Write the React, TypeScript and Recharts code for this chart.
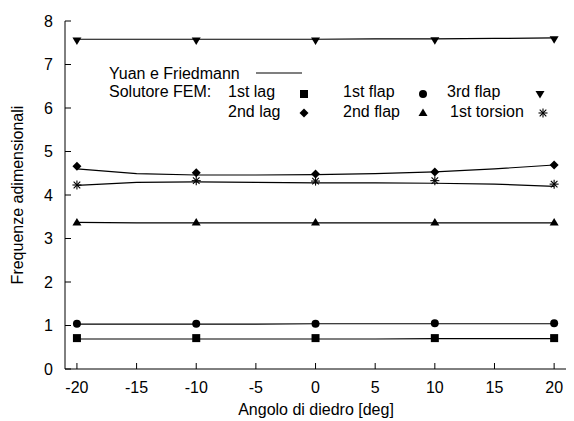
import React from 'react'
import { LineChart, Line, XAxis, YAxis } from 'recharts'

// Yuan e Friedmann curves, sampled every 5 deg
const anglesRef = [-20, -15, -10, -5, 0, 5, 10, 15, 20]
const refLag1 = [0.69, 0.69, 0.69, 0.69, 0.69, 0.69, 0.7, 0.7, 0.7]
const refFlap1 = [1.03, 1.03, 1.03, 1.03, 1.04, 1.04, 1.04, 1.04, 1.04]
const refFlap2 = [3.37, 3.36, 3.36, 3.36, 3.36, 3.36, 3.36, 3.36, 3.36]
const refTorsion1 = [4.22, 4.29, 4.3, 4.29, 4.28, 4.28, 4.27, 4.25, 4.2]
const refLag2 = [4.6, 4.49, 4.46, 4.46, 4.47, 4.49, 4.53, 4.6, 4.69]
const refFlap3 = [7.58, 7.58, 7.58, 7.58, 7.58, 7.59, 7.59, 7.6, 7.61]

// FEM solver results, every 10 deg
const anglesFem = [-20, -10, 0, 10, 20]
const femLag1 = [0.71, 0.71, 0.71, 0.71, 0.71]
const femFlap1 = [1.04, 1.04, 1.04, 1.05, 1.05]
const femFlap2 = [3.37, 3.37, 3.37, 3.37, 3.37]
const femTorsion1 = [4.23, 4.33, 4.32, 4.33, 4.25]
const femLag2 = [4.66, 4.51, 4.48, 4.53, 4.69]
const femFlap3 = [7.55, 7.55, 7.55, 7.56, 7.58]

const xTicks = [-20, -15, -10, -5, 0, 5, 10, 15, 20]
const yTicks = [0, 1, 2, 3, 4, 5, 6, 7, 8]

const refData = anglesRef.map((x, i) => ({
  x,
  lag1: refLag1[i],
  flap1: refFlap1[i],
  flap2: refFlap2[i],
  torsion1: refTorsion1[i],
  lag2: refLag2[i],
  flap3: refFlap3[i],
}))

const femData = anglesFem.map((x, i) => ({
  x,
  lag1: femLag1[i],
  flap1: femFlap1[i],
  flap2: femFlap2[i],
  torsion1: femTorsion1[i],
  lag2: femLag2[i],
  flap3: femFlap3[i],
}))

const FONT = '"Liberation Sans", Arial, Helvetica, sans-serif'

type Shape = 'square' | 'circle' | 'triUp' | 'triDown' | 'diamond' | 'star'

function marker(shape: Shape, cx: number, cy: number, key?: string | number) {
  const s = 4.5
  switch (shape) {
    case 'square':
      return <rect key={key} x={cx - 4} y={cy - 4} width={8} height={8} fill="#000" />
    case 'circle':
      return <circle key={key} cx={cx} cy={cy} r={4} fill="#000" />
    case 'triUp':
      return <polygon key={key} points={`${cx},${cy - s} ${cx - s},${cy + 3} ${cx + s},${cy + 3}`} fill="#000" />
    case 'triDown':
      return <polygon key={key} points={`${cx - s},${cy - 3} ${cx + s},${cy - 3} ${cx},${cy + s}`} fill="#000" />
    case 'diamond':
      return <polygon key={key} points={`${cx},${cy - s} ${cx + s},${cy} ${cx},${cy + s} ${cx - s},${cy}`} fill="#000" />
    case 'star':
      return (
        <g key={key} stroke="#000" strokeWidth={1.1}>
          <line x1={cx - s} y1={cy} x2={cx + s} y2={cy} />
          <line x1={cx} y1={cy - s} x2={cx} y2={cy + s} />
          <line x1={cx - 3.3} y1={cy - 3.3} x2={cx + 3.3} y2={cy + 3.3} />
          <line x1={cx - 3.3} y1={cy + 3.3} x2={cx + 3.3} y2={cy - 3.3} />
        </g>
      )
  }
}

const dotOf = (shape: Shape) => (props: any) => {
  const { cx, cy, index } = props
  if (cx == null || cy == null) return <g key={`e-${shape}-${index}`} />
  return marker(shape, cx, cy, `${shape}-${index}`)
}

const series: { key: string; shape: Shape }[] = [
  { key: 'lag1', shape: 'square' },
  { key: 'flap1', shape: 'circle' },
  { key: 'flap2', shape: 'triUp' },
  { key: 'torsion1', shape: 'star' },
  { key: 'lag2', shape: 'diamond' },
  { key: 'flap3', shape: 'triDown' },
]

const axisStroke = { stroke: '#000', strokeWidth: 1 }
const tickText = { fill: '#000', fontSize: 16, fontFamily: FONT }

function LegendBox() {
  const t = { fontSize: 16, fontFamily: FONT, fill: '#000' }
  return (
    <svg width={566} height={413} style={{ position: 'absolute', left: 0, top: 0, pointerEvents: 'none' }}>
      <text x={101} y={70.5} {...t}>Yuan e Friedmann</text>
      <line x1={248} y1={65} x2={294} y2={65} stroke="#000" strokeWidth={1.2} />
      <text x={101} y={89} {...t}>Solutore FEM:</text>
      <text x={220} y={89} {...t}>1st lag</text>
      {marker('square', 296, 86)}
      <text x={335} y={89} {...t}>1st flap</text>
      {marker('circle', 415, 86)}
      <text x={439} y={89} {...t}>3rd flap</text>
      {marker('triDown', 532, 86)}
      <text x={220} y={109} {...t}>2nd lag</text>
      {marker('diamond', 296, 105)}
      <text x={335} y={109} {...t}>2nd flap</text>
      {marker('triUp', 415, 105)}
      <text x={442} y={109} {...t}>1st torsion</text>
      {marker('star', 535, 105)}
      <text x={308} y={407} textAnchor="middle" {...t}>Angolo di diedro [deg]</text>
      <text x={0} y={0} textAnchor="middle" transform="translate(15,187) rotate(-90)" {...t}>
        Frequenze adimensionali
      </text>
    </svg>
  )
}

export default function App() {
  return (
    <div style={{ position: 'relative', width: 566, height: 413, overflow: 'hidden', fontFamily: FONT }}>
      <LineChart width={571} height={413} margin={{ top: 13, right: 0, bottom: 0, left: 0 }}>
        <XAxis
          xAxisId="b"
          type="number"
          dataKey="x"
          domain={[-21, 22]}
          ticks={xTicks}
          allowDataOverflow
          height={52}
          tickSize={-6}
          tickMargin={19}
          tick={tickText}
          axisLine={axisStroke}
          tickLine={axisStroke}
        />
        <XAxis
          xAxisId="t"
          orientation="top"
          type="number"
          dataKey="x"
          domain={[-21, 22]}
          ticks={xTicks}
          allowDataOverflow
          height={0}
          tickSize={-6}
          tick={false}
          axisLine={axisStroke}
          tickLine={axisStroke}
        />
        <YAxis
          yAxisId="l"
          type="number"
          domain={[0, 8]}
          ticks={yTicks}
          width={57}
          tickSize={-6}
          tickMargin={18}
          tick={tickText}
          axisLine={axisStroke}
          tickLine={axisStroke}
        />
        <YAxis
          yAxisId="r"
          orientation="right"
          type="number"
          domain={[0, 8]}
          ticks={yTicks}
          width={1}
          tickSize={-6}
          tick={false}
          axisLine={axisStroke}
          tickLine={axisStroke}
        />
        {series.map((s) => (
          <Line
            key={`ref-${s.key}`}
            xAxisId="b"
            yAxisId="l"
            data={refData}
            dataKey={s.key}
            type="linear"
            stroke="#000"
            strokeWidth={1.2}
            dot={false}
            activeDot={false}
            isAnimationActive={false}
          />
        ))}
        {series.map((s) => (
          <Line
            key={`fem-${s.key}`}
            xAxisId="b"
            yAxisId="l"
            data={femData}
            dataKey={s.key}
            type="linear"
            stroke="none"
            dot={dotOf(s.shape)}
            activeDot={false}
            isAnimationActive={false}
          />
        ))}
      </LineChart>
      <LegendBox />
    </div>
  )
}
